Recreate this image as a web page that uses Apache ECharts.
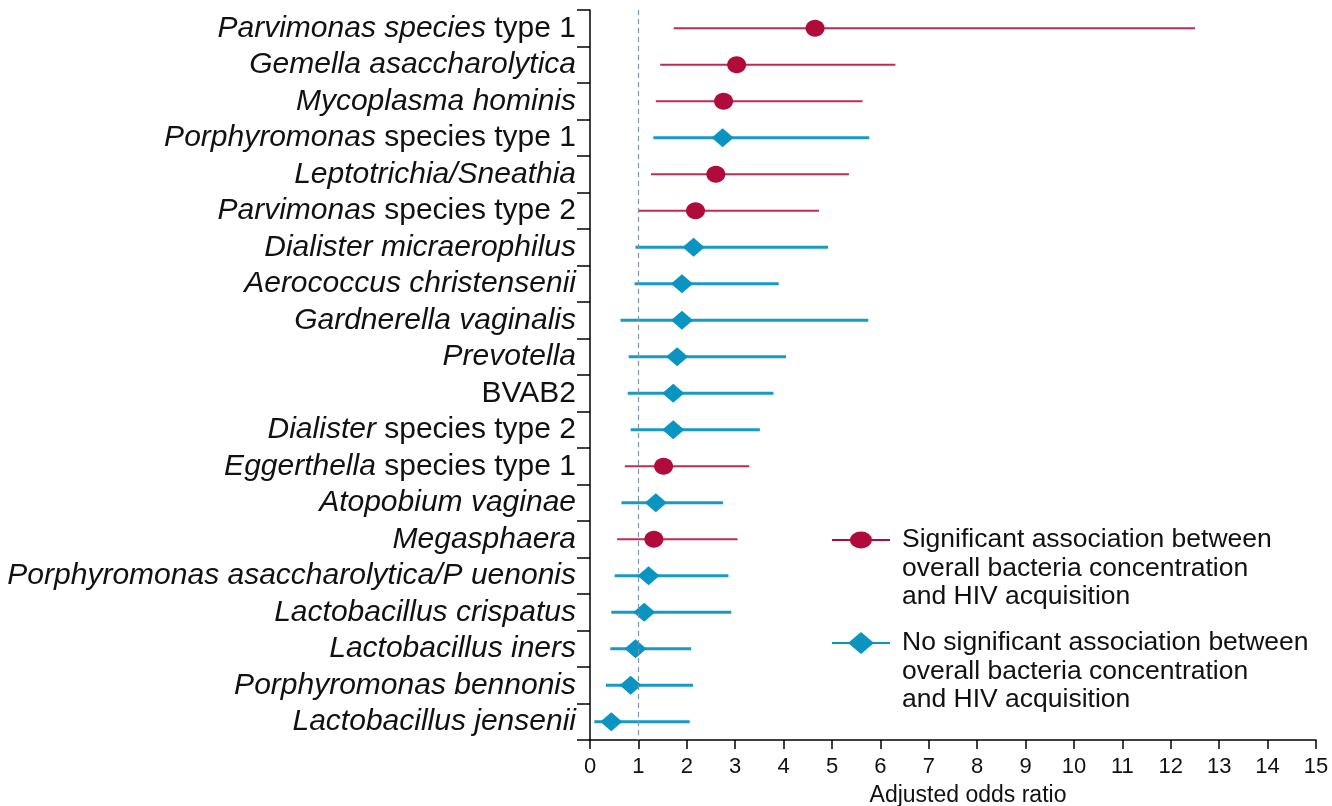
<!DOCTYPE html>
<html><head><meta charset="utf-8">
<script src="https://cdn.jsdelivr.net/npm/echarts@6/dist/echarts.min.js"></script>
<style>html,body{margin:0;padding:0;background:#fff}#c{width:1332px;height:806px}</style>
</head><body><div id="c"></div>
<script>
const categories = [
  'Parvimonas species type 1', 'Gemella asaccharolytica', 'Mycoplasma hominis',
  'Porphyromonas species type 1', 'Leptotrichia/Sneathia', 'Parvimonas species type 2',
  'Dialister micraerophilus', 'Aerococcus christensenii', 'Gardnerella vaginalis',
  'Prevotella', 'BVAB2', 'Dialister species type 2', 'Eggerthella species type 1',
  'Atopobium vaginae', 'Megasphaera', 'Porphyromonas asaccharolytica/P uenonis',
  'Lactobacillus crispatus', 'Lactobacillus iners', 'Porphyromonas bennonis',
  'Lactobacillus jensenii'
];
const italicPart = [
  'Parvimonas species', 'Gemella asaccharolytica', 'Mycoplasma hominis',
  'Porphyromonas', 'Leptotrichia/Sneathia', 'Parvimonas',
  'Dialister micraerophilus', 'Aerococcus christensenii', 'Gardnerella vaginalis',
  'Prevotella', '', 'Dialister', 'Eggerthella',
  'Atopobium vaginae', 'Megasphaera', 'Porphyromonas asaccharolytica/P uenonis',
  'Lactobacillus crispatus', 'Lactobacillus iners', 'Porphyromonas bennonis',
  'Lactobacillus jensenii'
];
const estimate = [4.65, 3.03, 2.76, 2.74, 2.60, 2.18, 2.14, 1.90, 1.90, 1.80, 1.72, 1.72, 1.52, 1.36, 1.32, 1.21, 1.12, 0.94, 0.84, 0.44];
const lower    = [1.73, 1.45, 1.36, 1.31, 1.26, 1.01, 0.94, 0.92, 0.63, 0.80, 0.78, 0.84, 0.72, 0.65, 0.56, 0.51, 0.44, 0.42, 0.33, 0.09];
const upper    = [12.5, 6.31, 5.63, 5.77, 5.35, 4.73, 4.92, 3.90, 5.75, 4.05, 3.79, 3.51, 3.29, 2.75, 3.05, 2.86, 2.92, 2.09, 2.13, 2.06];
const significant = [1, 1, 1, 0, 1, 1, 0, 0, 0, 0, 0, 0, 1, 0, 1, 0, 0, 0, 0, 0];
const legendNames = [
  'Significant association between\noverall bacteria concentration\nand HIV acquisition',
  'No significant association between\noverall bacteria concentration\nand HIV acquisition'
];
const xMin = 0, xMax = 15, xInterval = 1, refValue = 1;
const axisTitle = 'Adjusted odds ratio';

const FONT = 'Liberation Sans';
const RED = '#b10b3b', RED_LINE = '#bf2a52';
const BLUE = '#0a94c2', BLUE_LINE = '#179bc6';

function rowsFor(flag) {
  const out = [];
  for (let i = 0; i < categories.length; i++) {
    if (significant[i] === flag) out.push([lower[i], upper[i], estimate[i], i]);
  }
  return out;
}

function makeRender(lineColor, fillColor, lw, marker) {
  return function (params, api) {
    const yi = api.value(3);
    const p0 = api.coord([api.value(0), yi]);
    const p1 = api.coord([api.value(1), yi]);
    const pe = api.coord([api.value(2), yi]);
    const children = [{
      type: 'line',
      shape: { x1: p0[0], y1: p0[1], x2: p1[0], y2: p1[1] },
      style: { stroke: lineColor, lineWidth: lw }
    }];
    if (marker === 'circle') {
      children.push({ type: 'ellipse', shape: { cx: pe[0], cy: pe[1], rx: 9.5, ry: 8.5 }, style: { fill: fillColor } });
    } else {
      children.push({ type: 'polygon', shape: { points: [[pe[0] - 11, pe[1]], [pe[0], pe[1] - 9.5], [pe[0] + 11, pe[1]], [pe[0], pe[1] + 9.5]] }, style: { fill: fillColor } });
    }
    return { type: 'group', children: children };
  };
}

// legend icons: line + marker at top; a degenerate sub-path extends the box downward
// so the marker lines up with the first text line
const iconCircle = 'path://M0,10L58,10L58,12L0,12Z M18,11A11,8.5 0 1,1 40,11A11,8.5 0 1,1 18,11Z M0,76.5L0.01,76.5L0.01,76.49Z';
const iconDiamond = 'path://M0,10L58,10L58,12L0,12Z M16,11L29,0L42,11L29,22Z M0,79L0.01,79L0.01,78.99Z';

const legendText = { fontFamily: FONT, fontSize: 26.5, lineHeight: 28.5, color: '#111', padding: [0, 0, 0, 7] };

const chart = echarts.init(document.getElementById('c'), null, { renderer: 'canvas' });
chart.setOption({
  animation: false,
  backgroundColor: '#fff',
  grid: { left: 590, right: 16, top: 10, bottom: 66, containLabel: false, outerBoundsMode: 'none' },
  legend: [
    { data: [{ name: legendNames[0], icon: iconCircle }], left: 832, top: 525.75, padding: 0,
      itemWidth: 58, itemHeight: 74, selectedMode: false, textStyle: legendText },
    { data: [{ name: legendNames[1], icon: iconDiamond }], left: 832, top: 628.75, padding: 0,
      itemWidth: 58, itemHeight: 79, selectedMode: false, textStyle: legendText }
  ],
  xAxis: {
    type: 'value', min: xMin, max: xMax, interval: xInterval,
    name: axisTitle, nameLocation: 'middle', nameGap: 44,
    nameTextStyle: { fontFamily: FONT, fontSize: 23, color: '#111', padding: [0, 0, 0, 30] },
    axisLine: { show: true, lineStyle: { color: '#000', width: 1.5 } },
    axisTick: { show: true, length: 9, lineStyle: { color: '#000', width: 1.5 } },
    axisLabel: { fontFamily: FONT, fontSize: 22, color: '#111', margin: 16 },
    splitLine: { show: false }
  },
  yAxis: {
    type: 'category', inverse: true, data: categories,
    axisLine: { show: true, lineStyle: { color: '#000', width: 1.5 } },
    axisTick: { show: true, length: 13, lineStyle: { color: '#000', width: 1.5 } },
    axisLabel: {
      margin: 14,
      formatter: function (value, idx) {
        const it = italicPart[idx];
        if (!it) return '{n|' + value + '}';
        if (it === value) return '{i|' + value + '}';
        return '{i|' + it + '}{n|' + value.slice(it.length) + '}';
      },
      rich: {
        i: { fontFamily: FONT, fontStyle: 'italic', fontSize: 30, color: '#111' },
        n: { fontFamily: FONT, fontSize: 30, color: '#111' }
      }
    },
    splitLine: { show: false }
  },
  series: [
    {
      type: 'line', name: 'ref', data: [], silent: true,
      markLine: {
        silent: true, symbol: 'none', label: { show: false },
        lineStyle: { color: '#7c95a8', type: [5, 4], width: 1.2 },
        data: [{ xAxis: refValue }]
      }
    },
    {
      type: 'custom', name: legendNames[0], itemStyle: { color: RED },
      renderItem: makeRender(RED_LINE, RED, 2, 'circle'),
      encode: { x: [0, 1, 2], y: 3 },
      data: rowsFor(1), z: 3
    },
    {
      type: 'custom', name: legendNames[1], itemStyle: { color: BLUE },
      renderItem: makeRender(BLUE_LINE, BLUE, 3, 'diamond'),
      encode: { x: [0, 1, 2], y: 3 },
      data: rowsFor(0), z: 3
    }
  ]
});
</script></body></html>
